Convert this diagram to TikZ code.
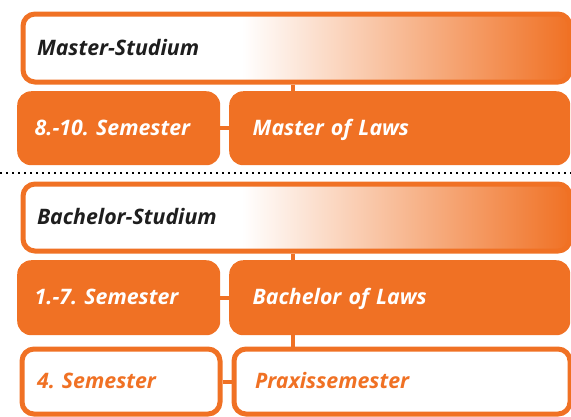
\documentclass[tikz,border=0pt]{standalone}
\usepackage{fontspec}
\setmainfont{Open Sans}
\usepackage{tikz}
\usepackage{xcolor}
\usetikzlibrary{positioning}

\definecolor{fhorange}{HTML}{F07124}
\definecolor{inkdark}{HTML}{1E1E1E}
\newlength{\unitpx}
\setlength{\unitpx}{0.03cm}
\pgfdeclarehorizontalshading{headfade}{100bp}{color(0bp)=(white); color(25bp)=(white); color(45bp)=(white); color(75bp)=(fhorange); color(100bp)=(fhorange)}
\frenchspacing

\begin{document}
\begin{tikzpicture}[x=0.03cm, y=-0.03cm,
        every node/.style={font=\fontsize{18.2}{21}\selectfont\bfseries\itshape, anchor=north west, align=left, text height=1.2em, text depth=0pt},
        headbox/.style={draw=fhorange, line width=5\unitpx, rounded corners=12\unitpx, shading=headfade, text=inkdark, inner xsep=14\unitpx, text width=519\unitpx},
        termbox/.style={fill=fhorange, rounded corners=14\unitpx, text=white, inner xsep=17.5\unitpx, text width=168\unitpx, minimum height=74\unitpx},
        degbox/.style={fill=fhorange, rounded corners=14\unitpx, text=white, inner xsep=23.5\unitpx, text width=294\unitpx, minimum height=74\unitpx},
        practerm/.style={draw=fhorange, fill=white, line width=5\unitpx, rounded corners=12\unitpx, text=fhorange, inner xsep=15\unitpx, text width=168\unitpx, minimum height=65\unitpx},
        pracdeg/.style={draw=fhorange, fill=white, line width=5\unitpx, rounded corners=12\unitpx, text=fhorange, inner xsep=21\unitpx, text width=294\unitpx, minimum height=65\unitpx},
        link/.style={draw=fhorange, line width=4\unitpx},
        sepline/.style={draw=black, line width=1.8\unitpx, dash pattern=on 1.8\unitpx off 4.2\unitpx}]
                \useasboundingbox (0,0) rectangle (571,416);
                \coordinate (spine) at (293,0);
                \coordinate (sepL) at (0,173);
                \coordinate (sepR) at (571,173);

                \node[headbox, minimum height=68\unitpx] (masterhead) at (20.5,11.5) {Master-Studium};
                \node[termbox] (mterm) at (17,91) {8.-10. Semester};
                \node[degbox] (mdeg) at (229,91) {Master of Laws};

                \node[headbox, minimum height=67\unitpx] (bachhead) at (20.5,181.5) {Bachelor-Studium};
                \node[termbox, minimum height=75\unitpx] (bterm) at (17,260) {1.-7. Semester};
                \node[degbox, minimum height=75\unitpx] (bdeg) at (229,260) {Bachelor of Laws};
                \node[practerm] (pterm) at (19.5,346.5) {4. Semester};
                \node[pracdeg] (pdeg) at (231.5,346.5) {Praxissemester};

                \draw[link] (masterhead.south -| spine) -- (mdeg.north -| spine);
                \draw[link] (mterm.east) -- (mdeg.west);
                \draw[link] (bachhead.south -| spine) -- (bdeg.north -| spine);
                \draw[link] (bterm.east) -- (bdeg.west);
                \draw[link] (bdeg.south -| spine) -- (pdeg.north -| spine);
                \draw[link] (pterm.east) -- (pdeg.west);

                \draw[sepline] (sepL) -- (sepR);
            \end{tikzpicture}
\end{document}
